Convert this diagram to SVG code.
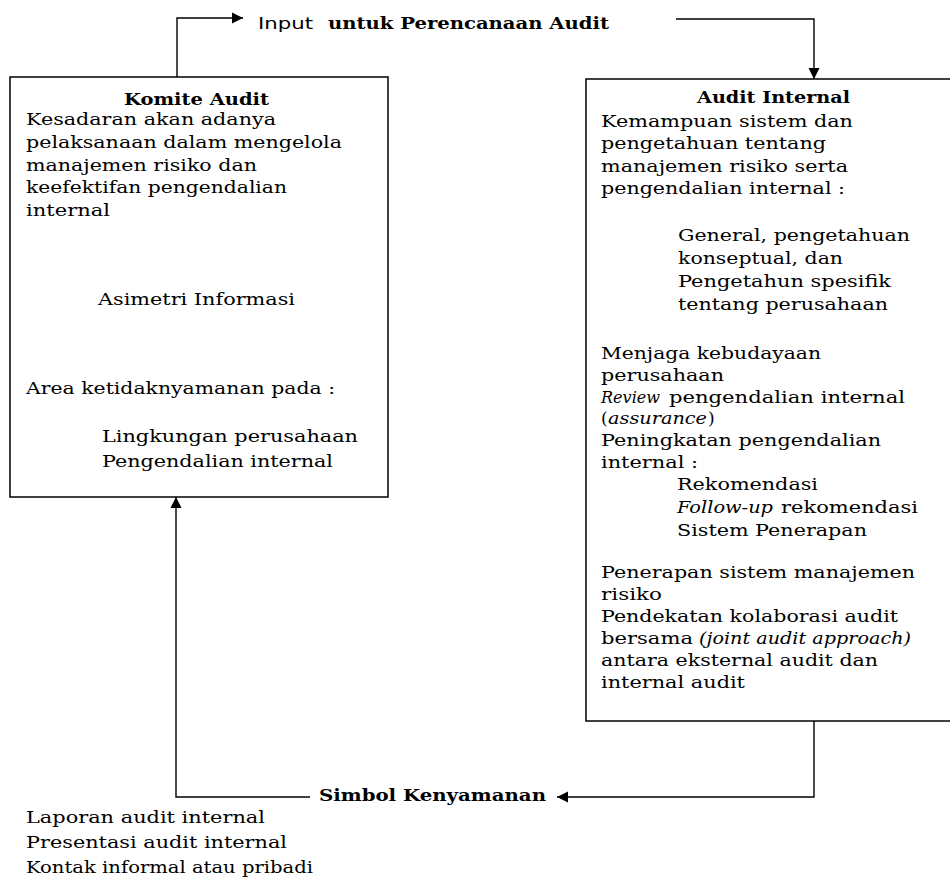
<svg xmlns="http://www.w3.org/2000/svg" width="950" height="877" viewBox="0 0 950 877">
<style>
text { font-family: "DejaVu Serif", "Liberation Serif", serif; font-size: 17px; fill: #000; }
.b { font-weight: bold; font-size: 16.5px; }
.i { font-style: italic; }
.h { font-size: 16px; }
.s { font-family: "DejaVu Sans", "Liberation Sans", sans-serif; font-size: 16px; }
.box { fill: #fff; stroke: #000; stroke-width: 1.5; }
.con { fill: none; stroke: #000; stroke-width: 1.4; }
</style>
<defs>
<marker id="ah" viewBox="0 0 10 10" refX="10" refY="5" markerWidth="11" markerHeight="12" markerUnits="userSpaceOnUse" orient="auto">
<path d="M0,0 L10,5 L0,10 z" fill="#000"/>
</marker>
</defs>
<rect width="950" height="877" fill="#fff"/>
<g id="connectors">
<path class="con" d="M177,77 V18 H243" marker-end="url(#ah)"/>
<path class="con" d="M676,19 H814 V79" marker-end="url(#ah)"/>
<path class="con" d="M814,721 V797 H557" marker-end="url(#ah)"/>
<path class="con" d="M310,797 H176 V497" marker-end="url(#ah)"/>
</g>
<g id="label-input">
<text class="s" x="258" y="29" textLength="55" lengthAdjust="spacingAndGlyphs">Input</text>
<text class="b h" x="328" y="29" textLength="281" lengthAdjust="spacingAndGlyphs">untuk Perencanaan Audit</text>
</g>
<g id="komite-audit">
<rect class="box" x="10" y="77" width="378" height="420"/>
<text class="b" x="124" y="105" textLength="145" lengthAdjust="spacingAndGlyphs">Komite Audit</text>
<text x="26" y="125" textLength="250" lengthAdjust="spacingAndGlyphs">Kesadaran akan adanya</text>
<text x="26" y="148" textLength="316" lengthAdjust="spacingAndGlyphs">pelaksanaan dalam mengelola</text>
<text x="26" y="170.5" textLength="231" lengthAdjust="spacingAndGlyphs">manajemen risiko dan</text>
<text x="26" y="193" textLength="261" lengthAdjust="spacingAndGlyphs">keefektifan pengendalian</text>
<text x="26" y="215.5" textLength="84" lengthAdjust="spacingAndGlyphs">internal</text>
<text x="98" y="305" textLength="197" lengthAdjust="spacingAndGlyphs">Asimetri Informasi</text>
<text x="26" y="394" textLength="309" lengthAdjust="spacingAndGlyphs">Area ketidaknyamanan pada :</text>
<text x="102" y="442" textLength="256" lengthAdjust="spacingAndGlyphs">Lingkungan perusahaan</text>
<text x="102" y="467" textLength="231" lengthAdjust="spacingAndGlyphs">Pengendalian internal</text>
</g>
<g id="audit-internal">
<rect class="box" x="586" y="79" width="370" height="642"/>
<text class="b" x="697" y="103" textLength="153" lengthAdjust="spacingAndGlyphs">Audit Internal</text>
<text x="601" y="127" textLength="252" lengthAdjust="spacingAndGlyphs">Kemampuan sistem dan</text>
<text x="601" y="149" textLength="225" lengthAdjust="spacingAndGlyphs">pengetahuan tentang</text>
<text x="601" y="172" textLength="247" lengthAdjust="spacingAndGlyphs">manajemen risiko serta</text>
<text x="601" y="194" textLength="244" lengthAdjust="spacingAndGlyphs">pengendalian internal :</text>
<text x="678" y="241" textLength="232" lengthAdjust="spacingAndGlyphs">General, pengetahuan</text>
<text x="678" y="264" textLength="165" lengthAdjust="spacingAndGlyphs">konseptual, dan</text>
<text x="678" y="287" textLength="213" lengthAdjust="spacingAndGlyphs">Pengetahun spesifik</text>
<text x="678" y="310" textLength="210" lengthAdjust="spacingAndGlyphs">tentang perusahaan</text>
<text x="601" y="359" textLength="220" lengthAdjust="spacingAndGlyphs">Menjaga kebudayaan</text>
<text x="601" y="381" textLength="123" lengthAdjust="spacingAndGlyphs">perusahaan</text>
<text class="i" x="601" y="403" textLength="59" lengthAdjust="spacingAndGlyphs">Review</text>
<text x="669" y="403" textLength="236" lengthAdjust="spacingAndGlyphs">pengendalian internal</text>
<text x="601" y="424">(</text>
<text class="i" x="608" y="424" textLength="99" lengthAdjust="spacingAndGlyphs">assurance</text>
<text x="708" y="424">)</text>
<text x="601" y="446" textLength="280" lengthAdjust="spacingAndGlyphs">Peningkatan pengendalian</text>
<text x="601" y="468" textLength="97" lengthAdjust="spacingAndGlyphs">internal :</text>
<text x="677" y="490" textLength="141" lengthAdjust="spacingAndGlyphs">Rekomendasi</text>
<text class="i" x="677" y="513" textLength="96" lengthAdjust="spacingAndGlyphs">Follow-up</text>
<text x="781" y="513" textLength="137" lengthAdjust="spacingAndGlyphs">rekomendasi</text>
<text x="677" y="536" textLength="190" lengthAdjust="spacingAndGlyphs">Sistem Penerapan</text>
<text x="601" y="578" textLength="314" lengthAdjust="spacingAndGlyphs">Penerapan sistem manajemen</text>
<text x="601" y="600" textLength="61" lengthAdjust="spacingAndGlyphs">risiko</text>
<text x="601" y="622" textLength="297" lengthAdjust="spacingAndGlyphs">Pendekatan kolaborasi audit</text>
<text x="601" y="644" textLength="92" lengthAdjust="spacingAndGlyphs">bersama</text>
<text class="i" x="699" y="644" textLength="212" lengthAdjust="spacingAndGlyphs">(joint audit approach)</text>
<text x="601" y="666" textLength="277" lengthAdjust="spacingAndGlyphs">antara eksternal audit dan</text>
<text x="601" y="688" textLength="144" lengthAdjust="spacingAndGlyphs">internal audit</text>
</g>
<g id="label-simbol">
<text class="b h" x="319" y="801" textLength="227" lengthAdjust="spacingAndGlyphs">Simbol Kenyamanan</text>
<text x="26" y="823" textLength="239" lengthAdjust="spacingAndGlyphs">Laporan audit internal</text>
<text x="26" y="848" textLength="261" lengthAdjust="spacingAndGlyphs">Presentasi audit internal</text>
<text x="26" y="873" textLength="287" lengthAdjust="spacingAndGlyphs">Kontak informal atau pribadi</text>
</g>
</svg>
